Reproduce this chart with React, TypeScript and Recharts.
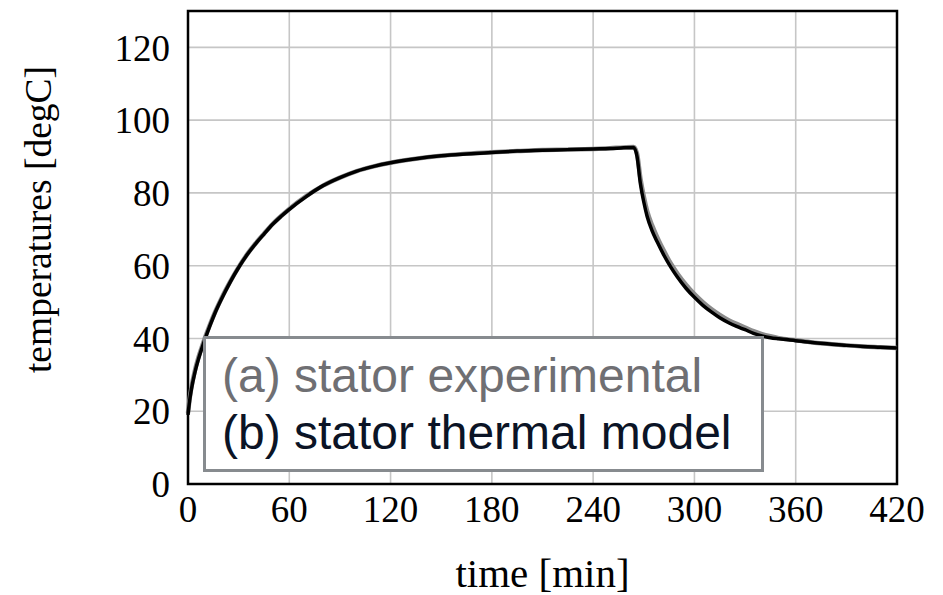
import React from 'react';
import { LineChart, Line, XAxis, YAxis, CartesianGrid, ReferenceArea, Label } from 'recharts';

const times = [0, 1, 2, 4, 6, 8, 10, 13, 16, 20, 25, 30, 35, 40, 45, 50, 55, 60, 70, 80, 90, 100, 110, 120, 135, 150, 165, 180, 195, 210, 225, 240, 250, 258, 264, 266, 268, 270, 272, 275, 278, 282, 286, 290, 295, 300, 305, 310, 315, 320, 325, 330, 335, 340, 345, 350, 360, 370, 380, 390, 400, 410, 420];

const modelTemps = [19, 23, 26, 30.5, 34, 37, 39.7, 43.5, 47, 51, 55.5, 59.5, 63, 66, 68.7, 71.3, 73.5, 75.5, 79, 82, 84.2, 86, 87.3, 88.3, 89.4, 90.2, 90.7, 91.1, 91.5, 91.7, 91.9, 92.1, 92.2, 92.4, 92.5, 90, 82.5, 77.5, 73.5, 69.5, 66.5, 62.8, 59.6, 56.8, 53.8, 51.3, 49.1, 47.3, 45.7, 44.4, 43.3, 42.4, 41.4, 40.7, 40.2, 39.9, 39.4, 38.9, 38.5, 38.1, 37.8, 37.6, 37.4];

const experimentalTemps = [19.5, 23.5, 26.5, 31, 34.5, 37.4, 40.1, 43.8, 47.2, 51.2, 55.6, 59.6, 63.1, 66.1, 68.8, 71.4, 73.6, 75.6, 79.1, 82, 84.2, 86, 87.3, 88.3, 89.4, 90.2, 90.8, 91.2, 91.5, 91.8, 91.9, 92.1, 92.3, 92.5, 92.6, 90.8, 84, 79, 75, 71, 67.8, 64, 60.6, 57.8, 54.8, 52.2, 50, 48.1, 46.5, 45.1, 44, 43, 42, 41.2, 40.6, 40.1, 39.5, 38.9, 38.5, 38.1, 37.8, 37.6, 37.4];

const xTicks = [0, 60, 120, 180, 240, 300, 360, 420];
const yTicks = [0, 20, 40, 60, 80, 100, 120];

const legendLabels = ['(a) stator experimental', '(b) stator thermal model'];

const data = times.map((t, i) => ({ t, exp: experimentalTemps[i], model: modelTemps[i] }));

const serif = '"Liberation Serif", "Times New Roman", serif';

export default function App() {
  return (
    <div style={{ position: 'absolute', left: 0, top: 0, width: 943, height: 595, background: '#fff' }}>
      <LineChart
        width={943}
        height={595}
        data={data}
        margin={{ top: 11, right: 46, bottom: 51, left: 38 }}
      >
        <CartesianGrid stroke="#c6c6c6" strokeWidth={1.6} horizontalValues={yTicks} verticalValues={xTicks} />
        <XAxis
          dataKey="t"
          type="number"
          domain={[0, 420]}
          ticks={xTicks}
          height={60}
          axisLine={false}
          tickLine={false}
          tickSize={6}
          tickMargin={6}
          interval={0}
          tick={{ fill: '#000', fontFamily: serif, fontSize: 37 }}
        >
          <Label
            content={(props: any) => {
              const vb = props.viewBox;
              return (
                <text x={vb.x + vb.width / 2} y={vb.y + 103} textAnchor="middle" fontFamily={serif} fontSize={41} fill="#000">
                  time [min]
                </text>
              );
            }}
          />
        </XAxis>
        <YAxis
          type="number"
          domain={[0, 130]}
          ticks={yTicks}
          width={150}
          axisLine={false}
          tickLine={false}
          tickSize={6}
          tickMargin={12}
          interval={0}
          tick={{ fill: '#000', fontFamily: serif, fontSize: 37 }}
        >
          <Label
            content={(props: any) => {
              const vb = props.viewBox;
              const cx = vb.x + 13;
              const cy = vb.y + vb.height / 2 - 28;
              return (
                <text x={cx} y={cy} textAnchor="middle" transform={`rotate(-90, ${cx}, ${cy})`} fontFamily={serif} fontSize={37.5} fill="#000">
                  temperatures [degC]
                </text>
              );
            }}
          />
        </YAxis>
        <Line type="monotone" dataKey="exp" stroke="#8c8c8c" strokeWidth={4.5} dot={false} isAnimationActive={false} />
        <Line type="monotone" dataKey="model" stroke="#000" strokeWidth={3.5} dot={false} isAnimationActive={false} />
        <ReferenceArea x1={0} x2={420} y1={0} y2={130} fill="none" stroke="#000" strokeWidth={2.5} ifOverflow="visible" />
      </LineChart>
      <div
        style={{
          position: 'absolute',
          left: 203,
          top: 336,
          width: 561,
          height: 136,
          boxSizing: 'border-box',
          border: '3.5px solid #878b8f',
          background: '#fff',
          paddingTop: 8,
          paddingLeft: 16,
          fontFamily: '"Liberation Sans", Arial, sans-serif',
          fontSize: 48,
          lineHeight: '57px',
          whiteSpace: 'nowrap',
        }}
      >
        <div style={{ color: '#6f6f73' }}>{legendLabels[0]}</div>
        <div style={{ color: '#0b1426' }}>{legendLabels[1]}</div>
      </div>
    </div>
  );
}
